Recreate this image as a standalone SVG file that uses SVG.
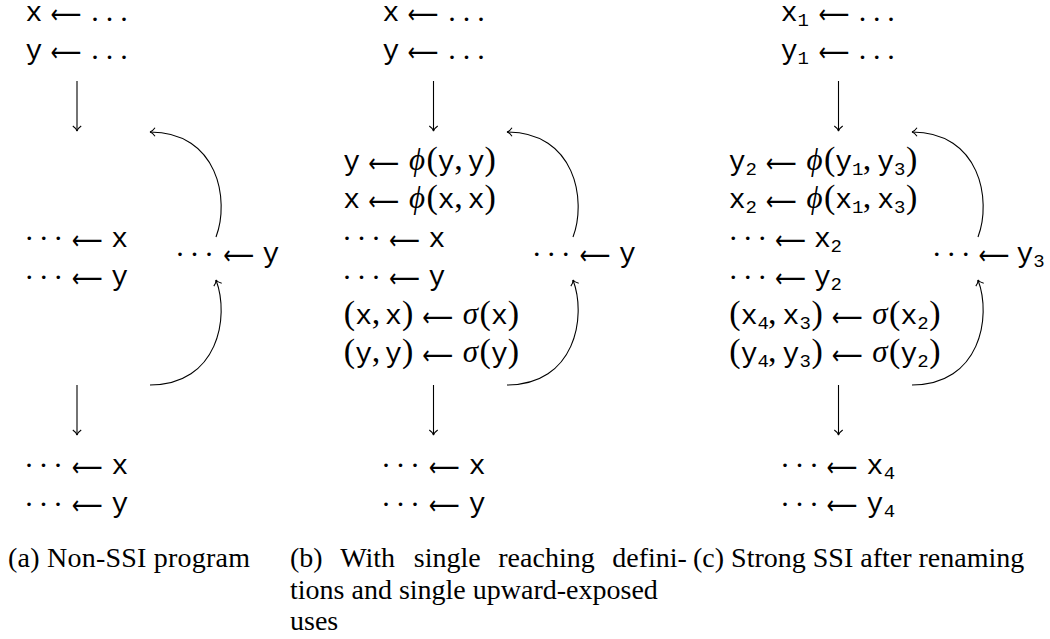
<svg xmlns="http://www.w3.org/2000/svg" width="1050" height="639" viewBox="0 0 1050 639">
<style>
text{fill:#000}
.r{text-anchor:middle}
.tt{font-family:"Liberation Mono","DejaVu Sans Mono",monospace;font-size:28px}
.sb{font-family:"Liberation Mono","DejaVu Sans Mono",monospace;font-size:19px}
.rm{font-family:"Liberation Serif","DejaVu Serif",serif;font-size:34px}
.mi{font-family:"Liberation Serif","DejaVu Serif",serif;font-style:italic;font-size:31px}
.dt{font-family:"Liberation Serif","DejaVu Serif",serif;font-size:30px}
.ar{font-family:"DejaVu Sans",sans-serif;font-size:26px}
.cap{font-family:"Liberation Serif","DejaVu Serif",serif;font-size:28px}
</style>
<defs>
<marker id="tip" markerUnits="userSpaceOnUse" markerWidth="12" markerHeight="12" viewBox="-6 -6 12 12" refX="0" refY="0" orient="auto" overflow="visible">
<path d="M-5,-4.2 C-3.2,-1.6 -1.2,-0.3 0,0 C-1.2,0.3 -3.2,1.6 -5,4.2" fill="none" stroke="#000" stroke-width="1.1"/>
</marker>
</defs>

<!-- Panel A -->
<g id="a-top">
<text class="r"><tspan class="tt" x="33.8" y="21">x</tspan><tspan class="dt" x="95 109.5 124" y="21">...</tspan></text>
<text class="ar" x="50.6" y="23" textLength="30.8" lengthAdjust="spacingAndGlyphs">⟵</text>
<text class="r"><tspan class="tt" x="33.8" y="59">y</tspan><tspan class="dt" x="95 109.5 124" y="59">...</tspan></text>
<text class="ar" x="50.6" y="61" textLength="30.8" lengthAdjust="spacingAndGlyphs">⟵</text>
</g>
<g id="a-mid">
<text class="r"><tspan class="dt" x="29.3 43.8 58.3" y="240">...</tspan><tspan class="tt" x="119.7" y="246.5">x</tspan></text>
<text class="ar" x="71.8" y="248.5" textLength="30.8" lengthAdjust="spacingAndGlyphs">⟵</text>
<text class="r"><tspan class="dt" x="29.3 43.8 58.3" y="278.5">...</tspan><tspan class="tt" x="119.7" y="285">y</tspan></text>
<text class="ar" x="71.8" y="287" textLength="30.8" lengthAdjust="spacingAndGlyphs">⟵</text>
</g>
<g id="a-right">
<text class="r"><tspan class="dt" x="180 194.5 209" y="255.5">...</tspan><tspan class="tt" x="270.8" y="262">y</tspan></text>
<text class="ar" x="223.2" y="264" textLength="30.8" lengthAdjust="spacingAndGlyphs">⟵</text>
</g>
<g id="a-bot">
<text class="r"><tspan class="dt" x="29 43.5 58" y="467">...</tspan><tspan class="tt" x="120" y="473.5">x</tspan></text>
<text class="ar" x="71.8" y="475.5" textLength="30.8" lengthAdjust="spacingAndGlyphs">⟵</text>
<text class="r"><tspan class="dt" x="29 43.5 58" y="505.5">...</tspan><tspan class="tt" x="120" y="512">y</tspan></text>
<text class="ar" x="71.8" y="514" textLength="30.8" lengthAdjust="spacingAndGlyphs">⟵</text>
</g>
<g id="a-caption">
<text class="cap" x="8" y="567" textLength="242" lengthAdjust="spacing">(a) Non-SSI program</text>
</g>

<!-- Panel B -->
<g id="b-top">
<text class="r"><tspan class="tt" x="390.8" y="21">x</tspan><tspan class="dt" x="452 466.5 481" y="21">...</tspan></text>
<text class="ar" x="407.6" y="23" textLength="30.8" lengthAdjust="spacingAndGlyphs">⟵</text>
<text class="r"><tspan class="tt" x="390.8" y="59">y</tspan><tspan class="dt" x="452 466.5 481" y="59">...</tspan></text>
<text class="ar" x="407.6" y="61" textLength="30.8" lengthAdjust="spacingAndGlyphs">⟵</text>
</g>
<g id="b-mid">
<text class="r"><tspan class="tt" x="351.6" y="169.5">y</tspan><tspan class="mi" x="416.9" y="169.5">ϕ</tspan><tspan class="rm" x="432.1" y="169.5">(</tspan><tspan class="tt" x="446.2" y="169.5">y</tspan><tspan class="rm" x="458.6" y="169.5">,</tspan><tspan class="tt" x="476.1" y="169.5">y</tspan><tspan class="rm" x="490.2" y="169.5">)</tspan></text>
<text class="ar" x="368.3" y="171.5" textLength="30.8" lengthAdjust="spacingAndGlyphs">⟵</text>
<text class="r"><tspan class="tt" x="351.6" y="208">x</tspan><tspan class="mi" x="416.9" y="208">ϕ</tspan><tspan class="rm" x="432.1" y="208">(</tspan><tspan class="tt" x="446.2" y="208">x</tspan><tspan class="rm" x="458.6" y="208">,</tspan><tspan class="tt" x="476.1" y="208">x</tspan><tspan class="rm" x="490.2" y="208">)</tspan></text>
<text class="ar" x="368.3" y="210" textLength="30.8" lengthAdjust="spacingAndGlyphs">⟵</text>
<text class="r"><tspan class="dt" x="347 361.5 376" y="240">...</tspan><tspan class="tt" x="437" y="246.5">x</tspan></text>
<text class="ar" x="389.1" y="248.5" textLength="30.8" lengthAdjust="spacingAndGlyphs">⟵</text>
<text class="r"><tspan class="dt" x="347 361.5 376" y="278.5">...</tspan><tspan class="tt" x="437" y="285">y</tspan></text>
<text class="ar" x="389.1" y="287" textLength="30.8" lengthAdjust="spacingAndGlyphs">⟵</text>
<text class="r"><tspan class="rm" x="349.5" y="323.5">(</tspan><tspan class="tt" x="363.6" y="323.5">x</tspan><tspan class="rm" x="376" y="323.5">,</tspan><tspan class="tt" x="393.5" y="323.5">x</tspan><tspan class="rm" x="407.6" y="323.5">)</tspan><tspan class="mi" x="470.4" y="323.5">σ</tspan><tspan class="rm" x="485.2" y="323.5">(</tspan><tspan class="tt" x="499.3" y="323.5">x</tspan><tspan class="rm" x="513.4" y="323.5">)</tspan></text>
<text class="ar" x="422.2" y="325.5" textLength="30.8" lengthAdjust="spacingAndGlyphs">⟵</text>
<text class="r"><tspan class="rm" x="349.5" y="362">(</tspan><tspan class="tt" x="363.6" y="362">y</tspan><tspan class="rm" x="376" y="362">,</tspan><tspan class="tt" x="393.5" y="362">y</tspan><tspan class="rm" x="407.6" y="362">)</tspan><tspan class="mi" x="470.4" y="362">σ</tspan><tspan class="rm" x="485.2" y="362">(</tspan><tspan class="tt" x="499.3" y="362">y</tspan><tspan class="rm" x="513.4" y="362">)</tspan></text>
<text class="ar" x="422.2" y="364" textLength="30.8" lengthAdjust="spacingAndGlyphs">⟵</text>
</g>
<g id="b-right">
<text class="r"><tspan class="dt" x="536.7 551.2 565.7" y="255.5">...</tspan><tspan class="tt" x="627.5" y="262">y</tspan></text>
<text class="ar" x="579.6" y="264" textLength="30.8" lengthAdjust="spacingAndGlyphs">⟵</text>
</g>
<g id="b-bot">
<text class="r"><tspan class="dt" x="386 400.5 415" y="467">...</tspan><tspan class="tt" x="477.2" y="473.5">x</tspan></text>
<text class="ar" x="428.8" y="475.5" textLength="30.8" lengthAdjust="spacingAndGlyphs">⟵</text>
<text class="r"><tspan class="dt" x="386 400.5 415" y="505.5">...</tspan><tspan class="tt" x="477.2" y="512">y</tspan></text>
<text class="ar" x="428.8" y="514" textLength="30.8" lengthAdjust="spacingAndGlyphs">⟵</text>
</g>
<g id="b-caption">
<text class="cap" y="567"><tspan x="290">(b)</tspan><tspan x="340.2">With</tspan><tspan x="413.8">single</tspan><tspan x="498.3">reaching</tspan><tspan x="612.3">defini-</tspan></text>
<text class="cap" x="290" y="598.5">tions and single upward-exposed</text>
<text class="cap" x="290" y="630">uses</text>
</g>

<!-- Panel C -->
<g id="c-top">
<text class="r"><tspan class="tt" x="789.2" y="21">x</tspan><tspan class="sb" x="803.3" y="26">1</tspan><tspan class="dt" x="862.5 876.8 891" y="21">...</tspan></text>
<text class="ar" x="818.6" y="23" textLength="30.8" lengthAdjust="spacingAndGlyphs">⟵</text>
<text class="r"><tspan class="tt" x="789.2" y="59">y</tspan><tspan class="sb" x="803.3" y="64">1</tspan><tspan class="dt" x="862.5 876.8 891" y="59">...</tspan></text>
<text class="ar" x="818.6" y="61" textLength="30.8" lengthAdjust="spacingAndGlyphs">⟵</text>
</g>
<g id="c-mid">
<text class="r"><tspan class="tt" x="737.1" y="169.5">y</tspan><tspan class="sb" x="751.2" y="174.5">2</tspan><tspan class="mi" x="814.4" y="169.5">ϕ</tspan><tspan class="rm" x="829.6" y="169.5">(</tspan><tspan class="tt" x="843.7" y="169.5">y</tspan><tspan class="sb" x="857.8" y="174.5">1</tspan><tspan class="rm" x="867" y="169.5">,</tspan><tspan class="tt" x="885.6" y="169.5">y</tspan><tspan class="sb" x="899.7" y="174.5">3</tspan><tspan class="rm" x="911.7" y="169.5">)</tspan></text>
<text class="ar" x="765.8" y="171.5" textLength="30.8" lengthAdjust="spacingAndGlyphs">⟵</text>
<text class="r"><tspan class="tt" x="737.1" y="208">x</tspan><tspan class="sb" x="751.2" y="213">2</tspan><tspan class="mi" x="814.4" y="208">ϕ</tspan><tspan class="rm" x="829.6" y="208">(</tspan><tspan class="tt" x="843.7" y="208">x</tspan><tspan class="sb" x="857.8" y="213">1</tspan><tspan class="rm" x="867" y="208">,</tspan><tspan class="tt" x="885.6" y="208">x</tspan><tspan class="sb" x="899.7" y="213">3</tspan><tspan class="rm" x="911.7" y="208">)</tspan></text>
<text class="ar" x="765.8" y="210" textLength="30.8" lengthAdjust="spacingAndGlyphs">⟵</text>
<text class="r"><tspan class="dt" x="733.3 747.8 762.3" y="240">...</tspan><tspan class="tt" x="822.5" y="246.5">x</tspan><tspan class="sb" x="836.3" y="251.5">2</tspan></text>
<text class="ar" x="775.1" y="248.5" textLength="30.8" lengthAdjust="spacingAndGlyphs">⟵</text>
<text class="r"><tspan class="dt" x="733.3 747.8 762.3" y="278.5">...</tspan><tspan class="tt" x="822.5" y="285">y</tspan><tspan class="sb" x="836.3" y="290">2</tspan></text>
<text class="ar" x="775.1" y="287" textLength="30.8" lengthAdjust="spacingAndGlyphs">⟵</text>
<text class="r"><tspan class="rm" x="735" y="323.5">(</tspan><tspan class="tt" x="749.1" y="323.5">x</tspan><tspan class="sb" x="763.2" y="328.5">4</tspan><tspan class="rm" x="772.2" y="323.5">,</tspan><tspan class="tt" x="791" y="323.5">x</tspan><tspan class="sb" x="805.1" y="328.5">3</tspan><tspan class="rm" x="817.1" y="323.5">)</tspan><tspan class="mi" x="879.9" y="323.5">σ</tspan><tspan class="rm" x="894.7" y="323.5">(</tspan><tspan class="tt" x="908.8" y="323.5">x</tspan><tspan class="sb" x="922.9" y="328.5">2</tspan><tspan class="rm" x="934.9" y="323.5">)</tspan></text>
<text class="ar" x="831.7" y="325.5" textLength="30.8" lengthAdjust="spacingAndGlyphs">⟵</text>
<text class="r"><tspan class="rm" x="735" y="362">(</tspan><tspan class="tt" x="749.1" y="362">y</tspan><tspan class="sb" x="763.2" y="367">4</tspan><tspan class="rm" x="772.2" y="362">,</tspan><tspan class="tt" x="791" y="362">y</tspan><tspan class="sb" x="805.1" y="367">3</tspan><tspan class="rm" x="817.1" y="362">)</tspan><tspan class="mi" x="879.9" y="362">σ</tspan><tspan class="rm" x="894.7" y="362">(</tspan><tspan class="tt" x="908.8" y="362">y</tspan><tspan class="sb" x="922.9" y="367">2</tspan><tspan class="rm" x="934.9" y="362">)</tspan></text>
<text class="ar" x="831.7" y="364" textLength="30.8" lengthAdjust="spacingAndGlyphs">⟵</text>
</g>
<g id="c-right">
<text class="r"><tspan class="dt" x="936.7 951.2 965.7" y="255.5">...</tspan><tspan class="tt" x="1025" y="262">y</tspan><tspan class="sb" x="1039" y="267">3</tspan></text>
<text class="ar" x="978.6" y="264" textLength="30.8" lengthAdjust="spacingAndGlyphs">⟵</text>
</g>
<g id="c-bot">
<text class="r"><tspan class="dt" x="785 799.5 814" y="467">...</tspan><tspan class="tt" x="875" y="473.5">x</tspan><tspan class="sb" x="889.5" y="478.5">4</tspan></text>
<text class="ar" x="826.6" y="475.5" textLength="30.8" lengthAdjust="spacingAndGlyphs">⟵</text>
<text class="r"><tspan class="dt" x="785 799.5 814" y="505.5">...</tspan><tspan class="tt" x="875" y="512">y</tspan><tspan class="sb" x="889.5" y="517">4</tspan></text>
<text class="ar" x="826.6" y="514" textLength="30.8" lengthAdjust="spacingAndGlyphs">⟵</text>
</g>
<g id="c-caption">
<text class="cap" x="693" y="567">(c) Strong SSI after renaming</text>
</g>

<g id="connectors" fill="none" stroke="#000" stroke-width="1.1" marker-end="url(#tip)">
<path d="M77,81 V131"/>
<path d="M77,385 V435"/>
<path d="M433.5,81 V131"/>
<path d="M433.5,385 V435"/>
<path d="M838.5,81 V131"/>
<path d="M838.5,385 V435"/>
<path d="M216,237 C230,200 218,132 150,132"/>
<path d="M150,385 C218,385 230,317 216,280"/>
<path transform="translate(357,0)" d="M216,237 C230,200 218,132 150,132"/>
<path transform="translate(357,0)" d="M150,385 C218,385 230,317 216,280"/>
<path transform="translate(762,0)" d="M216,237 C230,200 218,132 150,132"/>
<path transform="translate(762,0)" d="M150,385 C218,385 230,317 216,280"/>
</g>
</svg>
